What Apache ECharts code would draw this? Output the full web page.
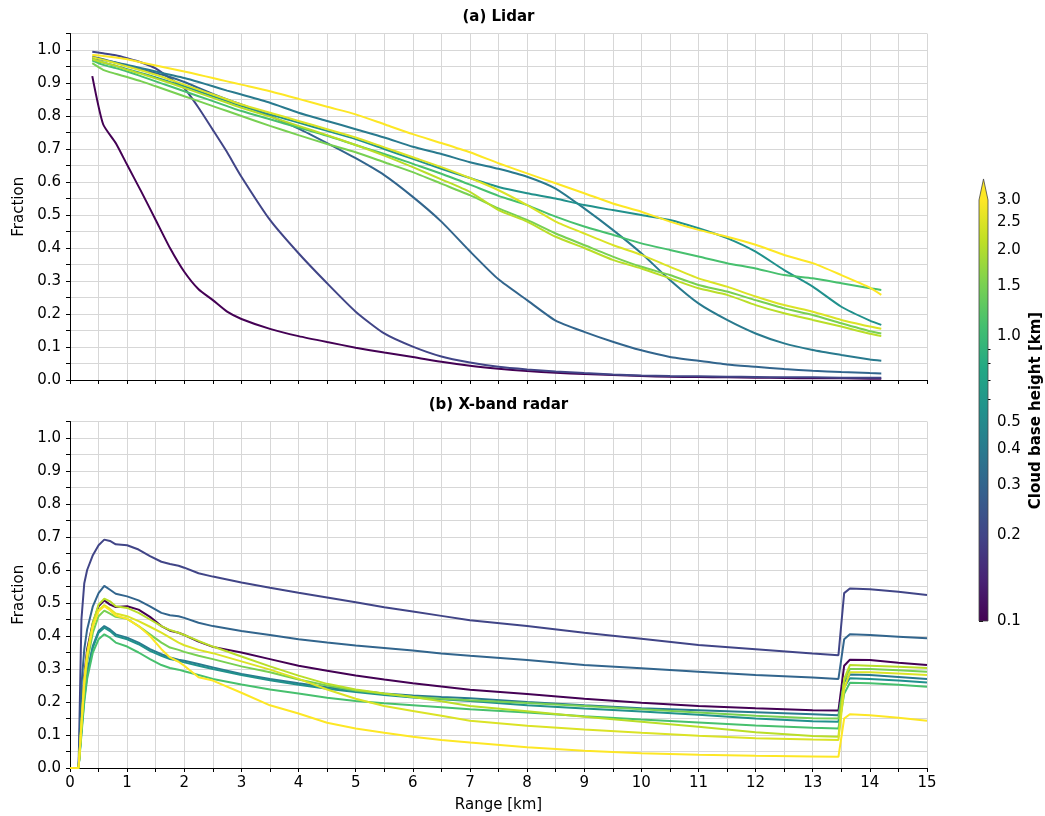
<!DOCTYPE html>
<html>
<head>
<meta charset="utf-8">
<script src="https://cdn.jsdelivr.net/npm/echarts@6/dist/echarts.min.js"></script>
<style>
  html, body { margin: 0; padding: 0; background: #fff; }
  #chart { width: 1045px; height: 816px; }
</style>
</head>
<body>
<div id="chart"></div>
<script>
// range axes [km]
var range_lidar = [0.39, 0.58, 0.8, 1.0, 1.25, 1.5, 1.75, 2.0, 2.25, 2.5, 2.75, 3.0, 3.5, 4.0, 4.5,
    5.0, 5.5, 6.0, 6.5, 7.0, 7.5, 8.0, 8.5, 9.0, 9.5, 10.0, 10.5, 11.0, 11.5, 12.0, 12.5, 13.0, 13.5, 14.0, 14.2];
var range_radar = [0, 0.15, 0.2, 0.25, 0.3, 0.4, 0.5, 0.6, 0.7, 0.8, 1.0, 1.2, 1.4, 1.6, 1.75, 1.9, 2.0, 2.25, 2.5,
    3, 3.5, 4, 4.5, 5, 5.5, 6, 6.5, 7, 8, 9, 10, 11, 12, 13, 13.45, 13.55, 13.65, 14, 14.5, 15];

// cloud base height of each curve [km]
var cbh = [0.1, 0.2, 0.3, 0.4, 0.55, 1.1, 1.5, 2.1, 2.5, 3.0];

// lidar fraction, one array per cloud base height
var lidar_010 = [0.921, 0.775, 0.718, 0.652, 0.57, 0.485, 0.40, 0.328, 0.275, 0.242, 0.207, 0.185, 0.155, 0.133, 0.115,
    0.098, 0.083, 0.07, 0.055, 0.043, 0.034, 0.027, 0.022, 0.018, 0.015, 0.012, 0.01, 0.009, 0.008, 0.007, 0.006, 0.005, 0.005, 0.004, 0.004];
var lidar_020 = [0.995, 0.99, 0.984, 0.975, 0.962, 0.944, 0.914, 0.884, 0.825, 0.758, 0.69, 0.616, 0.485, 0.384, 0.293,
    0.207, 0.141, 0.101, 0.071, 0.053, 0.04, 0.032, 0.026, 0.021, 0.017, 0.014, 0.012, 0.011, 0.01, 0.009, 0.008, 0.008, 0.007, 0.007, 0.007];
var lidar_030 = [0.98, 0.972, 0.962, 0.952, 0.94, 0.93, 0.918, 0.903, 0.885, 0.867, 0.85, 0.835, 0.8, 0.762, 0.718,
    0.672, 0.621, 0.555, 0.48, 0.39, 0.305, 0.242, 0.18, 0.146, 0.116, 0.09, 0.07, 0.058, 0.047, 0.04, 0.033, 0.028, 0.024, 0.021, 0.02];
var lidar_040 = [0.975, 0.97, 0.962, 0.955, 0.945, 0.935, 0.925, 0.915, 0.903, 0.89, 0.877, 0.865, 0.84, 0.81, 0.785,
    0.76, 0.735, 0.707, 0.685, 0.66, 0.64, 0.616, 0.58, 0.52, 0.455, 0.384, 0.303, 0.232, 0.182, 0.141, 0.111, 0.091, 0.076, 0.062, 0.058];
var lidar_055 = [0.97, 0.962, 0.952, 0.942, 0.93, 0.917, 0.903, 0.89, 0.875, 0.86, 0.845, 0.83, 0.805, 0.78, 0.755,
    0.73, 0.7, 0.67, 0.64, 0.612, 0.585, 0.566, 0.55, 0.53, 0.515, 0.5, 0.485, 0.46, 0.43, 0.389, 0.333, 0.283, 0.222, 0.18, 0.167];
var lidar_110 = [0.968, 0.955, 0.945, 0.935, 0.92, 0.905, 0.89, 0.875, 0.86, 0.845, 0.83, 0.815, 0.79, 0.765, 0.74,
    0.712, 0.685, 0.655, 0.625, 0.592, 0.558, 0.53, 0.495, 0.465, 0.44, 0.414, 0.394, 0.374, 0.354, 0.338, 0.318, 0.308, 0.293, 0.278, 0.273];
var lidar_150 = [0.96, 0.94, 0.928, 0.918, 0.905, 0.89, 0.875, 0.86, 0.845, 0.83, 0.815, 0.8, 0.77, 0.742, 0.715,
    0.69, 0.66, 0.63, 0.595, 0.56, 0.52, 0.485, 0.444, 0.409, 0.374, 0.343, 0.318, 0.288, 0.268, 0.242, 0.217, 0.197, 0.172, 0.148, 0.141];
var lidar_210 = [0.972, 0.962, 0.952, 0.94, 0.928, 0.914, 0.9, 0.885, 0.87, 0.855, 0.84, 0.825, 0.798, 0.77, 0.742,
    0.712, 0.68, 0.645, 0.608, 0.57, 0.515, 0.48, 0.434, 0.4, 0.364, 0.338, 0.308, 0.278, 0.258, 0.227, 0.202, 0.182, 0.162, 0.14, 0.133];
var lidar_250 = [0.978, 0.97, 0.96, 0.95, 0.938, 0.925, 0.91, 0.895, 0.88, 0.865, 0.85, 0.835, 0.81, 0.785, 0.76,
    0.735, 0.705, 0.675, 0.645, 0.612, 0.575, 0.53, 0.48, 0.444, 0.409, 0.379, 0.343, 0.308, 0.283, 0.253, 0.227, 0.207, 0.182, 0.162, 0.155];
var lidar_300 = [0.985, 0.982, 0.977, 0.972, 0.962, 0.953, 0.944, 0.935, 0.925, 0.915, 0.905, 0.895, 0.875, 0.852, 0.828,
    0.805, 0.775, 0.745, 0.718, 0.69, 0.657, 0.626, 0.596, 0.566, 0.535, 0.51, 0.48, 0.455, 0.434, 0.41, 0.379, 0.354, 0.318, 0.28, 0.258];

// X-band radar fraction, one array per cloud base height
var radar_010 = [0, 0, 0.15, 0.28, 0.36, 0.44, 0.49, 0.508, 0.495, 0.488, 0.49, 0.48, 0.458, 0.43, 0.416, 0.41, 0.403, 0.383, 0.367,
    0.35, 0.33, 0.31, 0.295, 0.28, 0.268, 0.257, 0.247, 0.237, 0.224, 0.21, 0.198, 0.188, 0.181, 0.175, 0.174, 0.31, 0.328, 0.327, 0.319, 0.312];
var radar_020 = [0, 0, 0.45, 0.56, 0.6, 0.645, 0.675, 0.692, 0.688, 0.678, 0.675, 0.662, 0.642, 0.625, 0.618, 0.613, 0.607, 0.59, 0.58,
    0.562, 0.546, 0.531, 0.517, 0.502, 0.487, 0.474, 0.461, 0.448, 0.43, 0.41, 0.392, 0.373, 0.36, 0.347, 0.342, 0.53, 0.544, 0.542, 0.534, 0.524];
var radar_030 = [0, 0, 0.25, 0.36, 0.42, 0.49, 0.53, 0.552, 0.54, 0.528, 0.52, 0.508, 0.49, 0.47, 0.463, 0.46, 0.455, 0.44, 0.43,
    0.415, 0.403, 0.39, 0.38, 0.371, 0.364, 0.356, 0.347, 0.34, 0.327, 0.312, 0.302, 0.292, 0.282, 0.274, 0.27, 0.39, 0.405, 0.403, 0.398, 0.393];
var radar_040 = [0, 0, 0.12, 0.22, 0.29, 0.37, 0.415, 0.43, 0.42, 0.405, 0.395, 0.38, 0.36, 0.345, 0.335, 0.328, 0.325, 0.315, 0.305,
    0.285, 0.27, 0.257, 0.245, 0.235, 0.226, 0.22, 0.215, 0.211, 0.2, 0.19, 0.181, 0.175, 0.169, 0.163, 0.16, 0.26, 0.283, 0.282, 0.276, 0.27];
var radar_055 = [0, 0, 0.11, 0.21, 0.28, 0.365, 0.41, 0.425, 0.415, 0.4, 0.39, 0.375, 0.355, 0.34, 0.33, 0.325, 0.32, 0.31, 0.3,
    0.282, 0.266, 0.252, 0.24, 0.23, 0.221, 0.214, 0.208, 0.203, 0.19, 0.18, 0.171, 0.161, 0.15, 0.142, 0.14, 0.245, 0.272, 0.27, 0.265, 0.259];
var radar_110 = [0, 0, 0.1, 0.2, 0.27, 0.35, 0.39, 0.405, 0.395, 0.38, 0.368, 0.35, 0.33, 0.312, 0.303, 0.298, 0.293, 0.282, 0.27,
    0.253, 0.238, 0.226, 0.213, 0.203, 0.196, 0.19, 0.184, 0.178, 0.168, 0.157, 0.147, 0.138, 0.129, 0.122, 0.12, 0.225, 0.258, 0.257, 0.252, 0.246];
var radar_150 = [0, 0, 0.12, 0.24, 0.32, 0.41, 0.46, 0.477, 0.468, 0.458, 0.452, 0.43, 0.405, 0.38, 0.365, 0.358, 0.352, 0.34, 0.33,
    0.308, 0.29, 0.268, 0.25, 0.235, 0.225, 0.216, 0.21, 0.205, 0.197, 0.188, 0.178, 0.168, 0.158, 0.151, 0.15, 0.265, 0.3, 0.3, 0.296, 0.292];
var radar_210 = [0, 0, 0.14, 0.27, 0.35, 0.44, 0.495, 0.513, 0.505, 0.49, 0.485, 0.47, 0.45, 0.43, 0.418, 0.41, 0.403, 0.385, 0.368,
    0.338, 0.308, 0.28, 0.255, 0.238, 0.226, 0.215, 0.202, 0.188, 0.172, 0.155, 0.14, 0.125, 0.108, 0.097, 0.095, 0.27, 0.312, 0.31, 0.307, 0.303];
var radar_250 = [0, 0, 0.13, 0.26, 0.34, 0.43, 0.478, 0.494, 0.482, 0.468, 0.46, 0.445, 0.428, 0.41, 0.395, 0.38, 0.372, 0.358, 0.348,
    0.323, 0.298, 0.27, 0.238, 0.21, 0.188, 0.173, 0.158, 0.143, 0.128, 0.117, 0.107, 0.098, 0.09, 0.086, 0.085, 0.24, 0.29, 0.29, 0.286, 0.282];
var radar_300 = [0, 0, 0.13, 0.26, 0.34, 0.43, 0.475, 0.49, 0.478, 0.462, 0.452, 0.43, 0.4, 0.36, 0.335, 0.322, 0.31, 0.275, 0.265,
    0.228, 0.19, 0.165, 0.137, 0.12, 0.107, 0.095, 0.085, 0.077, 0.063, 0.052, 0.045, 0.04, 0.037, 0.035, 0.034, 0.15, 0.163, 0.16, 0.152, 0.143];

// colorbar ticks [km]
var cbar_major = [0.1, 0.2, 0.3, 0.4, 0.5, 1.0, 1.5, 2.0, 2.5, 3.0];
var cbar_minor = [0.6, 0.7, 0.8, 0.9];

var lidar_all = [lidar_010, lidar_020, lidar_030, lidar_040, lidar_055, lidar_110, lidar_150, lidar_210, lidar_250, lidar_300];
var radar_all = [radar_010, radar_020, radar_030, radar_040, radar_055, radar_110, radar_150, radar_210, radar_250, radar_300];

var VIRIDIS = ['#440154', '#482475', '#414487', '#355f8d', '#2a788e', '#21918c', '#22a884', '#44bf70', '#7ad151', '#bddf26', '#fde725'];
var LOG_MIN = Math.log10(0.1);
var LOG_MAX = Math.log10(3.0);
var FONT = 'DejaVu Sans';

function hex2rgb(h) {
    return [parseInt(h.substr(1, 2), 16), parseInt(h.substr(3, 2), 16), parseInt(h.substr(5, 2), 16)];
}
function viridis(t) {
    t = Math.max(0, Math.min(1, t));
    var p = t * (VIRIDIS.length - 1);
    var i = Math.min(Math.floor(p), VIRIDIS.length - 2);
    var f = p - i;
    var a = hex2rgb(VIRIDIS[i]), b = hex2rgb(VIRIDIS[i + 1]);
    var c = a.map(function (v, k) { return Math.round(v + (b[k] - v) * f); });
    return 'rgb(' + c.join(',') + ')';
}
// log norm of the colorbar
function cbhColor(h) {
    return viridis((Math.log10(h) - LOG_MIN) / (LOG_MAX - LOG_MIN));
}
function zip(xs, ys) {
    return xs.map(function (x, i) { return [x, ys[i]]; });
}

var chart = echarts.init(document.getElementById('chart'), null, { renderer: 'canvas' });

var gridColor = '#d7d7d7';
var labelStyle = { fontFamily: FONT, fontSize: 15, color: '#000' };

function xAx(idx, showLabels) {
    return {
        gridIndex: idx, type: 'value', min: 0, max: 15, interval: 0.5,
        axisLine: { show: true, onZero: false, lineStyle: { color: '#000', width: 1 } },
        axisTick: { show: true, length: 4, lineStyle: { color: '#000' } },
        axisLabel: {
            show: showLabels, margin: 8, fontFamily: FONT, fontSize: 15, color: '#000',
            formatter: function (v) { return Math.abs(v - Math.round(v)) < 1e-6 ? String(Math.round(v)) : ''; }
        },
        splitLine: { show: true, lineStyle: { color: gridColor, width: 1 } },
        name: showLabels ? 'Range [km]' : '', nameLocation: 'middle', nameGap: 30,
        nameTextStyle: labelStyle
    };
}
function yAx(idx) {
    return {
        gridIndex: idx, type: 'value', min: 0, max: 1.05, interval: 0.05,
        axisLine: { show: true, lineStyle: { color: '#000', width: 1 } },
        axisTick: { show: true, length: 4, lineStyle: { color: '#000' } },
        axisLabel: {
            margin: 9, fontFamily: FONT, fontSize: 15, color: '#000',
            formatter: function (v) {
                var k = Math.round(v * 10);
                return (Math.abs(v * 10 - k) < 1e-6 && k <= 10) ? (k / 10).toFixed(1) : '';
            }
        },
        splitLine: { show: true, lineStyle: { color: gridColor, width: 1 } },
        name: 'Fraction', nameLocation: 'middle', nameGap: 43,
        nameTextStyle: labelStyle
    };
}

var series = [];
cbh.forEach(function (h, i) {
    series.push({
        type: 'line', xAxisIndex: 0, yAxisIndex: 0, data: zip(range_lidar, lidar_all[i]),
        showSymbol: false, symbol: 'none', smooth: 0.2,
        lineStyle: { width: 2, color: cbhColor(h) }, z: 2 + i
    });
    series.push({
        type: 'line', xAxisIndex: 1, yAxisIndex: 1, data: zip(range_radar, radar_all[i]),
        showSymbol: false, symbol: 'none', lineStyle: { width: 2, color: cbhColor(h) }, z: 2 + i
    });
});

// colorbar: gradient body and the "extend max" triangle
var gradStops = VIRIDIS.slice().reverse().map(function (c, i) {
    return { offset: i / (VIRIDIS.length - 1), color: c };
});
series.push({
    type: 'custom', xAxisIndex: 2, yAxisIndex: 2, clip: false, silent: true,
    data: [[0, LOG_MIN]],
    renderItem: function (params, api) {
        var p0 = api.coord([0, LOG_MIN]);
        var p1 = api.coord([1, LOG_MAX]);
        var x = p0[0], y = p1[1], w = p1[0] - p0[0], h = p0[1] - p1[1];
        var tip = h * 0.05;
        return {
            type: 'group',
            children: [
                { type: 'rect', shape: { x: x, y: y, width: w, height: h },
                  style: { fill: new echarts.graphic.LinearGradient(0, 0, 0, 1, gradStops) } },
                { type: 'polygon', shape: { points: [[x, y], [x + w, y], [x + w / 2, y - tip]] },
                  style: { fill: VIRIDIS[VIRIDIS.length - 1] } },
                { type: 'polygon', shape: { points: [[x, y + h], [x + w, y + h], [x + w, y], [x + w / 2, y - tip], [x, y]] },
                  style: { fill: 'none', stroke: '#444', lineWidth: 0.8 } }
            ]
        };
    }
});

var option = {
    animation: false,
    backgroundColor: '#fff',
    title: [
        { text: '(a) Lidar', left: 498.5, top: 10, padding: 0, textAlign: 'center',
          textStyle: { fontFamily: FONT, fontSize: 15, fontWeight: 'bold', color: '#000' } },
        { text: '(b) X-band radar', left: 498.5, top: 398, padding: 0, textAlign: 'center',
          textStyle: { fontFamily: FONT, fontSize: 15, fontWeight: 'bold', color: '#000' } }
    ],
    grid: [
        { left: 70, top: 33.5, width: 857, height: 346.5 },
        { left: 70, top: 421.5, width: 857, height: 346.5 },
        { left: 979, top: 200, width: 9, height: 421 }
    ],
    xAxis: [
        xAx(0, false),
        xAx(1, true),
        { gridIndex: 2, type: 'value', min: 0, max: 1, show: false }
    ],
    yAxis: [
        yAx(0),
        yAx(1),
        {
            gridIndex: 2, type: 'value', min: LOG_MIN, max: LOG_MAX, position: 'right',
            axisLine: { show: false },
            splitLine: { show: false },
            axisTick: { show: true, length: 4, lineStyle: { color: '#000' },
                customValues: cbar_major.map(function (v) { return Math.log10(v); }) },
            axisLabel: { margin: 9, fontFamily: FONT, fontSize: 15, color: '#000',
                customValues: cbar_major.map(function (v) { return Math.log10(v); }),
                formatter: function (v) { return Math.pow(10, v).toFixed(1); } },
            name: 'Cloud base height [km]', nameLocation: 'middle', nameGap: 41, nameRotate: 90,
            nameTextStyle: { fontFamily: FONT, fontSize: 15, fontWeight: 'bold', color: '#000' }
        },
        {
            gridIndex: 2, type: 'value', min: LOG_MIN, max: LOG_MAX, position: 'right',
            axisLine: { show: false },
            splitLine: { show: false },
            axisTick: { show: true, length: 2.5, lineStyle: { color: '#000' },
                customValues: cbar_minor.map(function (v) { return Math.log10(v); }) },
            axisLabel: { show: false }
        }
    ],
    series: series
};

chart.setOption(option);
</script>
</body>
</html>
